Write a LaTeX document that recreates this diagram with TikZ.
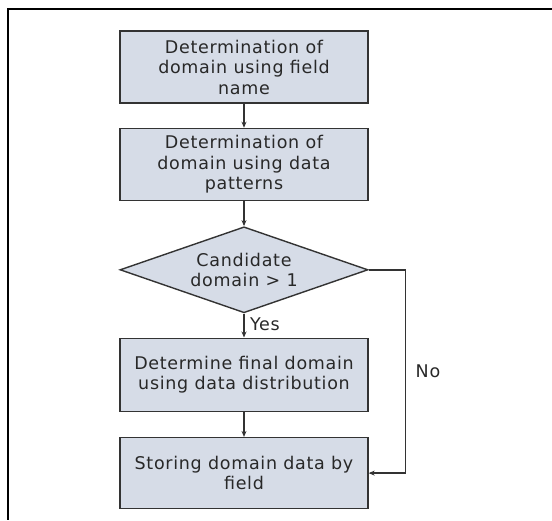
\documentclass[tikz,border=0pt]{standalone}
\usepackage{fontspec}
\setmainfont{DejaVu Sans}[LetterSpace=4]
\usepackage{xcolor}
\usetikzlibrary{shapes.geometric, arrows.meta, positioning}
\definecolor{boxfill}{RGB}{214,220,231}
\definecolor{linegray}{RGB}{51,51,51}
\definecolor{textgray}{RGB}{40,40,40}
\tikzset{
  process/.style={rectangle, minimum width=248pt, minimum height=72pt, align=center, draw=linegray, fill=boxfill, text=textgray, font=\fontsize{17.5}{20.5}\selectfont, line width=1.4pt, inner sep=2pt},
  decision/.style={diamond, minimum width=248pt, minimum height=86pt, aspect=2.9, align=center, draw=linegray, fill=boxfill, text=textgray, font=\fontsize{17.5}{20.5}\selectfont, line width=1.4pt, inner sep=0pt},
  arrow/.style={-{Stealth[length=6pt, width=5pt]}, line width=1.4pt, draw=linegray},
  lbl/.style={text=textgray, font=\fontsize{17.5}{20.5}\selectfont},
}
\begin{document}
\begin{tikzpicture}[node distance=24pt]
\useasboundingbox (0pt,0pt) rectangle (552pt,-520pt);
\draw[line width=1.6pt, black] (552pt,-9pt) -- (8pt,-9pt) -- (8pt,-520pt);
\node (fieldname) [process] at (244pt,-67pt) {Determination of\\domain using field\\name};
\node (pattern) [process, below=of fieldname] {Determination of\\domain using data\\patterns};
\node (cand) [decision, below=25pt of pattern] {Candidate\\domain > 1};
\node (final) [process, below=of cand, minimum height=73pt] {Determine final domain\\using data distribution};
\node (store) [process, below=25pt of final, minimum height=71pt] {Storing domain data by\\field};
\draw[arrow] (fieldname) -- (pattern);
\draw[arrow] (pattern) -- (cand);
\draw[arrow] (cand) -- node[lbl, right, xshift=2pt, yshift=1pt]{Yes} (final);
\draw[arrow] (final) -- (store);
\draw[arrow] (cand.east) -- ++(37pt,0pt) |- node[lbl, pos=0.25, right, xshift=6pt]{No} (store.east);
\end{tikzpicture}
\end{document}
